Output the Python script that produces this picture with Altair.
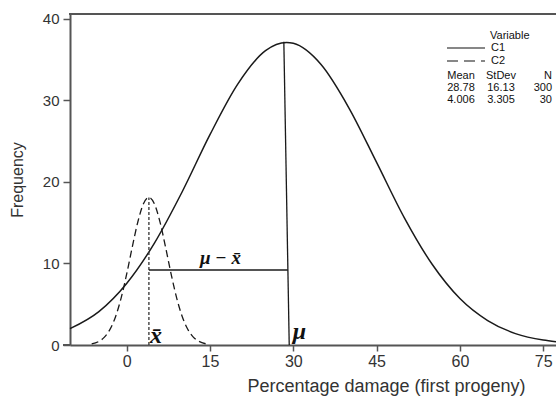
import altair as alt
import pandas as pd

# ---- data ----
c1_x = [-10.2, -5, 0, 5, 10, 15, 20, 25, 28.78, 30, 35, 40, 45, 50, 55, 60, 65, 70, 75, 77.3]
c1_y = [2.0, 4.1, 7.55, 12.5, 18.8, 25.8, 32.0, 36.1, 37.1, 37.0, 34.4, 29.1, 22.4, 15.6, 9.9, 5.7, 3.0, 1.4, 0.6, 0.4]

c2_x = [-6.3, -5, -4, -3, -2, -1, 0, 1, 2, 3, 4.006, 5, 6, 7, 8, 9, 10, 11, 12, 13, 14.3]
c2_y = [0.14, 0.44, 0.96, 1.91, 3.47, 5.75, 8.69, 11.98, 15.06, 17.29, 18.11, 17.31, 15.10, 12.02, 8.73, 5.78, 3.50, 1.93, 0.97, 0.45, 0.14]

xbar_line_x = [4.006, 4.006]
xbar_line_y = [0, 18.1]
mu_line_x = [28.3, 29.27]
mu_line_y = [37.2, 0]
diff_line_x = [4.006, 29.03]
diff_line_y = [9.2, 9.2]

labels_text = ["\u03bc \u2212 x\u0304", "x\u0304", "\u03bc"]
labels_x = [16.9, 4.2, 29.9]
labels_y = [9.9, 0.25, 0.75]
labels_size = [19, 24, 24]
labels_align = ["center", "left", "left"]

x_ticks = [0, 15, 30, 45, 60, 75]
y_ticks = [0, 10, 20, 30, 40]

legend_title = "Variable"
series_names = ["C1", "C2"]
stat_headers = ["Mean", "StDev", "N"]
stat_rows = [["28.78", "16.13", "300"], ["4.006", "3.305", "30"]]

X_DOMAIN = [-10.2, 77.3]
Y_DOMAIN = [0, 40.6]
W, H = 486, 331

xs = alt.Scale(domain=X_DOMAIN, nice=False, zero=False)
ys = alt.Scale(domain=Y_DOMAIN, nice=False, zero=False)

X_AX = alt.Axis(
    values=x_ticks, title="Percentage damage (first progeny)",
    titleX=316, titleY=46, titleAlign="center", titleBaseline="alphabetic",
    titleFontSize=18, labelFontSize=16, tickSize=6, labelPadding=2,
    labelFlush=False)
Y_AX = alt.Axis(
    values=y_ticks, title="Frequency", titleX=-45, titleY=165.5,
    titleFontSize=16, labelFontSize=15, tickSize=7, labelPadding=4)


def ex():
    return alt.X("x:Q", scale=xs, axis=X_AX)


def ey():
    return alt.Y("y:Q", scale=ys, axis=Y_AX)


c1 = pd.DataFrame({"x": c1_x, "y": c1_y})
c2 = pd.DataFrame({"x": c2_x, "y": c2_y})

curve1 = alt.Chart(c1).mark_line(color="#1a1a1a", strokeWidth=1.5, interpolate="monotone").encode(
    x=ex(), y=ey())

curve2 = alt.Chart(c2).mark_line(color="#1a1a1a", strokeWidth=1.3, interpolate="monotone",
                                  strokeDash=[7, 4]).encode(x=ex(), y=ey())


def seg(xv, yv, **kw):
    df = pd.DataFrame({"x": xv, "y": yv, "o": list(range(len(xv)))})
    return alt.Chart(df).mark_line(**kw).encode(x=ex(), y=ey(), order="o:O")


xbar_line = seg(xbar_line_x, xbar_line_y, color="#333333", strokeWidth=1.3, strokeDash=[3, 2])
mu_line = seg(mu_line_x, mu_line_y, color="#1a1a1a", strokeWidth=1.3)
diff_line = seg(diff_line_x, diff_line_y, color="#1a1a1a", strokeWidth=1.3)

lab_layers = []
for i in range(len(labels_text)):
    d = pd.DataFrame({"t": [labels_text[i]], "x": [labels_x[i]], "y": [labels_y[i]]})
    lab_layers.append(alt.Chart(d).mark_text(
        font="Liberation Serif", fontWeight="bold", fontStyle="italic",
        fontSize=labels_size[i], align=labels_align[i], baseline="alphabetic", color="#111111"
    ).encode(x=ex(), y=ey(), text="t:N"))

one = pd.DataFrame({"a": [0]})
top_border = alt.Chart(one).mark_rule(color="#555555", strokeWidth=2).encode(
    x=alt.value(-1), x2=alt.value(W), y=alt.value(0))
x_ext = alt.Chart(one).mark_rule(color="#555555", strokeWidth=2).encode(
    x=alt.value(-7), x2=alt.value(0), y=alt.value(H))

# legend built from text / rules (plot-area pixel positions)
LF = "Liberation Sans"
LS = 11
leg = []
leg.append(alt.Chart(one).mark_text(font=LF, fontSize=LS, align="left", baseline="middle", color="#111").encode(
    x=alt.value(420), y=alt.value(22), text=alt.value(legend_title)))
row_y = [34, 47]
dashes = [[1, 0], [11, 6]]
for i, name in enumerate(series_names):
    leg.append(alt.Chart(one).mark_rule(color="#111", strokeWidth=1.2, strokeDash=dashes[i]).encode(
        x=alt.value(377), x2=alt.value(415), y=alt.value(row_y[i])))
    leg.append(alt.Chart(one).mark_text(font=LF, fontSize=LS, align="left", baseline="middle", color="#111").encode(
        x=alt.value(421), y=alt.value(row_y[i]), text=alt.value(name)))
col_x = [391, 431, 482]
col_align = ["center", "center", "right"]
for j, h in enumerate(stat_headers):
    leg.append(alt.Chart(one).mark_text(font=LF, fontSize=LS, align=col_align[j], baseline="middle", color="#111").encode(
        x=alt.value(col_x[j]), y=alt.value(62), text=alt.value(h)))
for r, row in enumerate(stat_rows):
    for j, v in enumerate(row):
        leg.append(alt.Chart(one).mark_text(font=LF, fontSize=LS, align=col_align[j], baseline="middle", color="#111").encode(
            x=alt.value(col_x[j]), y=alt.value(74 + 12 * r), text=alt.value(v)))

chart = alt.layer(curve1, curve2, xbar_line, diff_line, mu_line, *lab_layers, top_border, x_ext, *leg).properties(
    width=W, height=H,
    autosize=alt.AutoSizeParams(type="none"),
    padding={"left": 70, "top": 14, "right": 0, "bottom": 52},
).configure_view(stroke=None).configure_axis(
    grid=False, domainColor="#555555", domainWidth=2, tickColor="#555555", tickWidth=1.5,
    labelColor="#333333", titleColor="#333333", labelFont="Liberation Sans", titleFont="Liberation Sans",
    titleFontWeight="normal"
)

chart.save("out.html", embed_options={"renderer": "svg", "actions": False})
